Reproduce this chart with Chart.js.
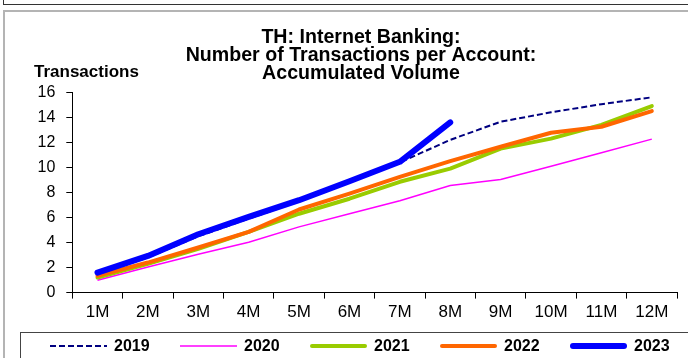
<!DOCTYPE html>
<html>
<head>
<meta charset="utf-8">
<script src="https://cdn.jsdelivr.net/npm/chart.js@4"></script>
<style>
  html, body { margin: 0; padding: 0; background: #fff; overflow: hidden; }
  body { width: 688px; height: 358px; position: relative; }
  #topbox { position: absolute; left: 3px; top: -10px; width: 720px; height: 13px; border: 1px solid #333; }
  #frame { position: absolute; left: 3px; top: 10px; width: 720px; height: 400px; border: 2px solid #b4b4b4; }
  #legendbox { position: absolute; left: 20px; top: 332px; width: 720px; height: 60px; border: 1px solid #444; }
  #wrap { position: absolute; left: 0; top: 0; width: 688px; height: 358px; }
</style>
</head>
<body>
<div id="topbox"></div>
<div id="frame"></div>
<div id="legendbox"></div>
<div id="wrap"><canvas id="chart" width="688" height="358"></canvas></div>
<script>
// Accumulated transactions per account, by month of the year
const months = ['1M', '2M', '3M', '4M', '5M', '6M', '7M', '8M', '9M', '10M', '11M', '12M'];
const years = ['2019', '2020', '2021', '2022', '2023'];

const y2019 = [1.5, 2.8, 4.5, 5.9, 7.3, 8.8, 10.4, 12.2, 13.65, 14.4, 15.05, 15.6];
const y2020 = [0.98, 2.05, 3.06, 4.02, 5.25, 6.3, 7.33, 8.56, 9.04, 10.1, 11.17, 12.26];
const y2021 = [1.2, 2.3, 3.5, 4.85, 6.3, 7.5, 8.85, 9.9, 11.5, 12.3, 13.4, 14.9];
const y2022 = [1.35, 2.4, 3.6, 4.85, 6.64, 7.9, 9.25, 10.5, 11.65, 12.77, 13.25, 14.5];
const y2023 = [1.6, 2.93, 4.66, 6.05, 7.38, 8.9, 10.45, 13.6];

const yTicks = [0, 2, 4, 6, 8, 10, 12, 14, 16];

const FONT = '"Liberation Sans", Arial, sans-serif';

// legend drawn in its own box under the axis, like the original
const boxLegend = {
    id: 'boxLegend',
    afterDraw(chart) {
        const ctx = chart.ctx;
        const y = 346;
        ctx.save();
        ctx.font = 'bold 16px ' + FONT;
        ctx.textBaseline = 'middle';
        chart.data.datasets.forEach((ds, i) => {
            const x = 50 + i * 130;
            ctx.beginPath();
            ctx.strokeStyle = ds.borderColor;
            ctx.lineWidth = ds.borderWidth;
            ctx.lineCap = ds.borderCapStyle || 'butt';
            ctx.setLineDash(ds.borderDash || []);
            const inset = ds.borderCapStyle === 'round' ? ds.borderWidth / 2 : 0;
            ctx.moveTo(x + inset, y);
            ctx.lineTo(x + 57 - inset, y);
            ctx.stroke();
            ctx.setLineDash([]);
            ctx.fillStyle = '#000';
            ctx.fillText(ds.label, x + 64, y + 1);
        });
        ctx.restore();
    }
};

// "Transactions" unit label above the y axis, and title nudged to the
// centre of the whole frame rather than the padded area
const unitLabel = {
    id: 'unitLabel',
    afterLayout(chart) {
        const t = chart.titleBlock;
        if (t) { t.left += 9.25; t.right += 9.25; }
    },
    afterDraw(chart) {
        const ctx = chart.ctx;
        ctx.save();
        ctx.font = 'bold 17px ' + FONT;
        ctx.fillStyle = '#000';
        ctx.textBaseline = 'middle';
        ctx.fillText('Transactions', 34, 72);
        ctx.restore();
    }
};

const ctx = document.getElementById('chart').getContext('2d');

new Chart(ctx, {
    type: 'line',
    data: {
        labels: months,
        datasets: [
            { label: years[0], data: y2019, borderColor: '#000080', borderWidth: 2, borderDash: [6, 3], order: 2 },
            { label: years[1], data: y2020, borderColor: '#ff00ff', borderWidth: 1.5, order: 5 },
            { label: years[2], data: y2021, borderColor: '#99cc00', borderWidth: 4, borderCapStyle: 'round', order: 4 },
            { label: years[3], data: y2022, borderColor: '#ff6600', borderWidth: 4, borderCapStyle: 'round', order: 3 },
            { label: years[4], data: y2023, borderColor: '#0000ff', borderWidth: 6, borderCapStyle: 'round', order: 1 }
        ]
    },
    options: {
        responsive: false,
        animation: false,
        elements: {
            point: { radius: 0, hoverRadius: 0 },
            line: { tension: 0, borderJoinStyle: 'round', fill: false }
        },
        layout: { padding: { top: 18, left: 26.5, right: 11, bottom: 31 } },
        plugins: {
            legend: { display: false },
            tooltip: { enabled: false },
            title: {
                display: true,
                text: ['TH: Internet Banking:', 'Number of Transactions per Account:', 'Accumulated Volume'],
                color: '#000',
                font: { family: FONT, size: 19.6, weight: 'bold', lineHeight: '18px' },
                padding: { top: 11, bottom: 9.3 }
            }
        },
        scales: {
            x: {
                offset: true,
                grid: { offset: true, drawOnChartArea: false, color: '#000', tickLength: 6 },
                border: { display: true, color: '#000', width: 1 },
                ticks: { color: '#000', font: { family: FONT, size: 17 }, padding: 4, maxRotation: 0, autoSkip: false }
            },
            y: {
                min: 0,
                max: 16,
                afterBuildTicks: (axis) => { axis.ticks = yTicks.map(v => ({ value: v })); },
                grid: { drawOnChartArea: false, color: '#000', tickLength: 6 },
                border: { display: true, color: '#000', width: 1 },
                ticks: { color: '#000', font: { family: FONT, size: 16 }, padding: 11 }
            }
        }
    },
    plugins: [boxLegend, unitLabel]
});
</script>
</body>
</html>
